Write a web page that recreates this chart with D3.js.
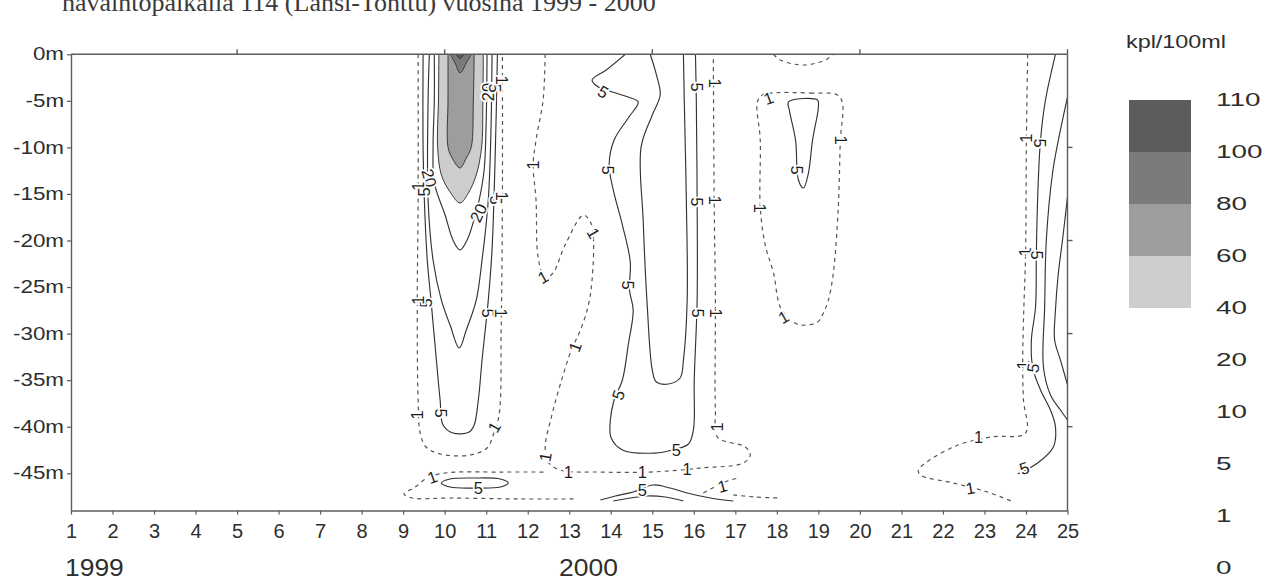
<!DOCTYPE html>
<html>
<head>
<meta charset="utf-8">
<script src="https://cdn.jsdelivr.net/npm/d3@7"></script>
<style>
  body { margin: 0; background: #fff; }
  text { font-family: "Liberation Sans", Arial, sans-serif; }
</style>
</head>
<body>
<svg id="chart" width="1279" height="581"></svg>
<script>
// ---- axis data ----
const months = d3.range(1, 26);
const depthTicks = [0, 5, 10, 15, 20, 25, 30, 35, 40, 45];
const topTicks = [5, 10, 15, 20, 25];
const rightTicks = [10, 20, 30, 40];
const years = ["1999", "2000"];
const yearStartMonth = [1, 12.9];
const titleText = "havaintopaikalla 114 (Länsi-Tonttu) vuosina 1999 - 2000";
const unitText = "kpl/100ml";

// ---- legend ----
const legendLevels = [110, 100, 80, 60, 40, 20, 10, 5, 1, 0];
const shadedLevels = [100, 80, 60, 40];           // lower bound of each shaded band
const shadeColors = ["#5c5c5c", "#7b7b7b", "#9d9d9d", "#cdcdcd"];

// ---- contour geometry: [month, depth in m] ----
// shaded bands of the bloom (closed along the surface)
const band40 = [[9.86,0],[9.85,4.91],[9.83,9.97],[9.92,12.96],[10.13,14.79],[10.37,15.97],[10.57,14.90],[10.76,12.96],[10.89,9.97],[10.92,4.91],[10.93,0]];
const band60 = [[10.08,0],[10.08,4.91],[10.08,9.97],[10.18,11.14],[10.37,12.21],[10.52,11.14],[10.64,9.97],[10.69,4.91],[10.71,0]];
const band80 = [[10.13,0],[10.25,0.93],[10.37,2.0],[10.52,0.93],[10.64,0]];
const band100 = [[10.28,0],[10.37,0.45],[10.47,0]];

// bloom isolines
const bloom20 = [[9.75,0],[9.75,4.91],[9.72,9.97],[9.75,13.82],[10.01,17.26],[10.20,19.95],[10.37,21.02],[10.54,19.95],[10.69,18.01],[10.83,15.65],[10.95,12.43],[11.00,7.06],[11.02,0]];
const bloom10 = [[9.63,0],[9.60,4.91],[9.60,15.65],[9.72,22.09],[9.92,26.40],[10.13,29.08],[10.35,31.55],[10.52,29.62],[10.76,26.40],[10.90,22.09],[11.05,15.65],[11.12,7.06],[11.14,0]];
const bloom5 = [[9.48,0],[9.48,10.28],[9.51,15.65],[9.58,22.09],[9.67,26.40],[9.80,32.84],[9.89,37.13],[9.96,39.82],[10.20,40.68],[10.59,40.57],[10.71,39.82],[10.81,37.13],[10.90,32.84],[11.05,26.40],[11.14,21.02],[11.22,10.28],[11.27,0]];
const bloom1 = [[9.36,0],[9.36,15.65],[9.34,26.40],[9.36,37.13],[9.41,40.68],[9.55,42.18],[9.89,42.93],[10.61,43.04],[11.02,42.29],[11.17,40.89],[11.31,38.74],[11.36,29.62],[11.39,15.65],[11.39,0]];

// near-bottom layer
const bottom1 = [[13.10,47.76],[11.82,47.76],[10.13,47.66],[9.22,47.66],[9.02,47.23],[9.29,46.48],[9.58,45.51],[10.01,44.97],[11.34,44.87],[12.42,44.87]];
const bottom5 = [[9.92,46.05],[10.13,45.62],[10.71,45.51],[11.34,45.62],[11.53,46.05],[11.34,46.48],[10.71,46.59],[10.13,46.48]];
const floor5a = [[13.75,47.87],[14.11,47.44],[14.54,47.01],[15.02,46.26],[15.43,46.59],[15.84,47.12],[16.40,47.66],[16.95,47.98]];
const floor5b = [[14.06,47.98],[14.47,47.66],[14.88,47.44],[15.31,47.55],[15.75,47.98]];
const floor1a = [[16.23,47.12],[16.45,46.59],[16.81,45.83],[17.07,45.51]];
const floor1b = [[16.95,47.33],[17.48,47.55],[18.11,47.66]];

// months 12–17
const mid1 = [[12.42,0],[12.37,4.91],[12.20,9.21],[12.13,11.89],[12.20,15.65],[12.23,21.02],[12.30,22.85],[12.42,24.03],[12.61,23.49],[12.90,20.49],[13.34,17.26],[13.51,18.01],[13.58,19.62],[13.55,24.25],[13.46,26.94],[13.27,29.62],[13.05,31.76],[12.78,35.52],[12.57,38.96],[12.42,42.18],[12.49,43.79],[12.78,44.65],[13.75,44.87],[14.95,44.87],[16.16,44.44],[17.19,43.90],[17.36,43.04],[17.24,42.18],[16.57,41.11],[16.52,38.21],[16.52,26.40],[16.49,15.65],[16.47,0]];
const mid5 = [[14.35,0],[13.89,1.69],[13.55,2.76],[13.70,3.51],[14.04,4.05],[14.42,4.59],[14.66,5.12],[14.42,6.84],[14.08,9.21],[13.96,11.89],[14.06,14.57],[14.28,18.34],[14.47,22.31],[14.45,25.32],[14.54,27.47],[14.42,31.22],[14.28,34.98],[14.08,37.13],[13.99,39.28],[14.01,41.22],[14.28,42.50],[15.07,42.83],[15.48,42.50],[15.87,41.86],[15.99,40.36],[16.01,34.98],[16.08,26.40],[16.08,15.65],[16.06,4.91],[16.04,0]];
const tongue5 = [[14.95,0],[15.10,2.22],[15.19,4.37],[15.00,6.52],[14.73,9.97],[14.78,17.80],[14.88,27.14],[15.00,33.91],[15.10,35.20],[15.39,35.41],[15.67,34.77],[15.75,32.84],[15.84,26.40],[15.82,15.65],[15.77,4.91],[15.75,0]];

// months 18–20
const surface1 = [[17.92,0],[18.08,0.61],[18.64,1.15],[19.17,0.61],[19.36,0]];
const patch1 = [[17.84,4.16],[18.81,4.16],[19.46,4.37],[19.58,5.23],[19.53,9.21],[19.48,16.40],[19.36,23.49],[19.24,26.40],[19.12,27.79],[18.98,28.76],[18.57,29.08],[18.33,28.54],[18.08,27.14],[17.92,23.49],[17.72,20.49],[17.60,16.40],[17.60,9.21],[17.53,5.12],[17.65,4.37]];
const patch5 = [[18.28,5.12],[18.98,4.91],[19.00,5.66],[18.86,9.21],[18.76,12.75],[18.64,14.36],[18.52,13.50],[18.45,9.21],[18.30,6.0]];

// months 21–25
const late1 = [[24.04,0],[24.01,9.21],[23.99,21.34],[23.94,28.54],[23.92,33.59],[23.94,37.13],[23.99,40.68],[23.14,41.11],[22.25,42.18],[21.41,44.65],[21.46,45.19],[22.25,46.05],[23.07,47.01],[23.70,48.09]];
const late5 = [[24.71,0],[24.47,4.91],[24.35,9.21],[24.28,15.65],[24.25,21.34],[24.23,27.14],[24.13,30.69],[24.16,33.59],[24.35,36.06],[24.59,38.21],[24.71,40.03],[24.66,42.18],[24.28,43.90],[23.80,45.08]];
const late10 = [[25,4.59],[24.78,9.21],[24.64,12.75],[24.49,19.95],[24.45,27.14],[24.42,33.59],[24.59,36.59],[24.83,38.21],[25,39.28]];
const late20 = [[25,15.33],[24.88,19.95],[24.78,23.49],[24.71,27.47],[24.69,30.69],[24.83,32.84],[25,35.5]];

const bands = [
  { level: 40, pts: band40 }, { level: 60, pts: band60 },
  { level: 80, pts: band80 }, { level: 100, pts: band100 }
];
const isolines = [
  { level: 1, pts: bloom1 }, { level: 5, pts: bloom5 }, { level: 10, pts: bloom10 }, { level: 20, pts: bloom20 },
  { level: 1, pts: bottom1 }, { level: 5, pts: bottom5, closed: true },
  { level: 5, pts: floor5a }, { level: 10, pts: floor5b },
  { level: 1, pts: floor1a }, { level: 1, pts: floor1b },
  { level: 1, pts: mid1 }, { level: 5, pts: mid5 }, { level: 5, pts: tongue5 },
  { level: 1, pts: surface1 }, { level: 1, pts: patch1, closed: true }, { level: 5, pts: patch5, closed: true },
  { level: 1, pts: late1 }, { level: 5, pts: late5 }, { level: 10, pts: late10 }, { level: 20, pts: late20 }
];

// contour labels: [text, month, depth, angle]
const contourLabels = [
  ["20", 11.05, 4.05, -90], ["5", 11.22, 3.62, 90], ["1", 11.37, 2.76, 90],
  ["20", 9.63, 13.29, 75], ["1", 9.36, 14.15, -90], ["5", 9.51, 14.79, -90],
  ["20", 10.81, 17.05, -65], ["5", 11.24, 15.65, 90], ["1", 11.39, 15.22, 90],
  ["5", 9.55, 26.71, -90], ["1", 9.35, 26.40, -90],
  ["5", 11.04, 27.79, 90], ["1", 11.36, 27.79, 90],
  ["1", 9.34, 38.74, -90], ["5", 9.90, 38.53, 90], ["1", 11.19, 40.03, -60],
  ["1", 9.70, 45.40, -20], ["5", 10.81, 46.59, 0],
  ["1", 12.13, 11.89, -90], ["1", 12.37, 23.92, -30], ["1", 13.58, 19.20, 60],
  ["1", 13.14, 31.44, -70], ["1", 12.42, 43.26, -80],
  ["1", 12.98, 44.87, 0], ["1", 14.76, 44.87, 0], ["1", 15.84, 44.54, 0], ["1", 16.57, 40.03, -90],
  ["5", 13.82, 4.05, 30], ["5", 13.94, 12.43, 90], ["5", 14.42, 24.78, 90], ["5", 14.18, 36.59, -70],
  ["5", 15.58, 42.50, 0],
  ["5", 16.08, 3.51, 90], ["5", 16.08, 15.86, 90], ["5", 16.11, 27.79, 90],
  ["1", 16.50, 3.08, 90], ["1", 16.52, 15.65, 90], ["1", 16.54, 27.79, 90],
  ["5", 14.76, 46.80, 0], ["1", 16.69, 46.37, -15],
  ["1", 17.80, 4.69, -20], ["1", 19.55, 9.21, 90], ["1", 17.60, 16.51, 90], ["1", 18.16, 28.22, -30],
  ["5", 18.49, 12.43, 90],
  ["1", 24.01, 9.0, -90], ["5", 24.33, 9.53, 90], ["1", 23.98, 21.23, -90], ["5", 24.27, 21.56, 90],
  ["1", 23.92, 33.37, -90], ["5", 24.17, 33.69, -80],
  ["1", 22.86, 41.11, 0], ["1", 22.66, 46.59, -10], ["5", 23.96, 44.44, -20]
];

// ---- drawing ----
const svg = d3.select("#chart");
const x = d3.scaleLinear().domain([1, 25]).range([71, 1067.5]);
const y = d3.scaleLinear().domain([0, 49]).range([54.3, 510.5]);
const shade = d3.scaleOrdinal().domain(shadedLevels).range(shadeColors);

// page heading (runs off the top edge of the page)
svg.append("text")
  .attr("x", 62).attr("y", 11)
  .style("font-family", "'Liberation Serif', 'Times New Roman', serif")
  .style("font-size", "26px").attr("fill", "#3a3a3a")
  .text(titleText);

svg.append("defs").append("clipPath").attr("id", "plotClip")
  .append("rect")
  .attr("x", x(1)).attr("y", y(0))
  .attr("width", x(25) - x(1)).attr("height", y(49) - y(0));

const plot = svg.append("g").attr("clip-path", "url(#plotClip)");
const openLine = d3.line().x(d => x(d[0])).y(d => y(d[1])).curve(d3.curveCatmullRom.alpha(0.5));
const loopLine = d3.line().x(d => x(d[0])).y(d => y(d[1])).curve(d3.curveCatmullRomClosed.alpha(0.5));

plot.selectAll("path.band").data(bands).join("path")
  .attr("class", "band")
  .attr("d", d => openLine(d.pts) + "Z")
  .attr("fill", d => shade(d.level))
  .attr("stroke", "#3a3a3a").attr("stroke-width", 1.0);

plot.selectAll("path.iso").data(isolines).join("path")
  .attr("class", "iso")
  .attr("d", d => d.closed ? loopLine(d.pts) : openLine(d.pts))
  .attr("fill", "none")
  .attr("stroke", d => d.level === 1 ? "#555" : "#333")
  .attr("stroke-width", d => d.level === 1 ? 1.2 : 1.15)
  .attr("stroke-dasharray", d => d.level === 1 ? "4,4" : null);

plot.selectAll("text.lab").data(contourLabels).join("text")
  .attr("class", "lab")
  .attr("transform", d => `translate(${x(d[1])},${y(d[2])}) rotate(${d[3]})`)
  .attr("text-anchor", "middle").attr("dy", "0.36em")
  .style("font-size", "16.5px")
  .attr("fill", "#1e1e1e")
  .attr("stroke", "#fff").attr("stroke-width", 3.5)
  .style("paint-order", "stroke")
  .text(d => d[0]);

// frame
const axisColor = "#5c5c5c";
const frame = svg.append("g");
frame.append("line").attr("x1", x(1)).attr("x2", x(25)).attr("y1", y(0)).attr("y2", y(0));
frame.append("line").attr("x1", x(25)).attr("x2", x(25)).attr("y1", y(0)).attr("y2", y(49));
frame.selectAll("line.tt").data(topTicks).join("line").attr("class", "tt")
  .attr("x1", d => x(d)).attr("x2", d => x(d)).attr("y1", y(0)).attr("y2", y(0) - 5);
frame.selectAll("line.rt").data(rightTicks).join("line").attr("class", "rt")
  .attr("x1", x(25)).attr("x2", x(25) + 5).attr("y1", d => y(d)).attr("y2", d => y(d));
frame.selectAll("line").attr("stroke", axisColor).attr("stroke-width", 1.4);

const yAxis = svg.append("g").attr("transform", `translate(${x(1)},0)`)
  .call(d3.axisLeft(y).tickValues(depthTicks).tickSize(4).tickPadding(3).tickSizeOuter(0)
    .tickFormat(d => `${-d}m`));
const xAxis = svg.append("g").attr("transform", `translate(0,${y(49)})`)
  .call(d3.axisBottom(x).tickValues(months).tickSize(4).tickPadding(9).tickSizeOuter(0)
    .tickFormat(d3.format("d")));

[yAxis, xAxis].forEach(g => {
  g.select(".domain").attr("stroke", axisColor).attr("stroke-width", 1.4);
  g.selectAll(".tick line").attr("stroke", axisColor).attr("stroke-width", 1.2);
  g.selectAll(".tick text").attr("fill", "#2e2e2e").style("font-family", "'Liberation Sans', Arial, sans-serif");
});
yAxis.selectAll(".tick text").style("font-size", "17.5px")
  .attr("x", -7 / 1.28).attr("transform", "scale(1.28,1)");
xAxis.selectAll(".tick text").style("font-size", "20px");

svg.selectAll("text.year").data(years).join("text").attr("class", "year")
  .attr("transform", (d, i) => `translate(${x(yearStartMonth[i]) - 6},576) scale(1.15,1)`)
  .style("font-size", "23px").attr("fill", "#2e2e2e")
  .text(d => d);

// legend
const legendTop = 100, legendStep = 52;
const ly = d3.scaleLinear().domain([0, legendLevels.length - 1])
  .range([legendTop, legendTop + legendStep * (legendLevels.length - 1)]);
const legend = svg.append("g");
legend.append("text")
  .attr("transform", `translate(1176,48) scale(1.3,1)`)
  .attr("text-anchor", "middle").style("font-size", "18px").attr("fill", "#2e2e2e")
  .text(unitText);
legend.selectAll("rect").data(shadedLevels).join("rect")
  .attr("x", 1129).attr("width", 62)
  .attr("y", (d, i) => ly(i)).attr("height", (d, i) => ly(i + 1) - ly(i))
  .attr("fill", d => shade(d));
legend.selectAll("text.lv").data(legendLevels).join("text").attr("class", "lv")
  .attr("transform", (d, i) => `translate(1216,${ly(i)}) scale(1.55,1)`)
  .attr("dy", "0.36em").style("font-size", "18px").attr("fill", "#2e2e2e")
  .text(d => d);
</script>
</body>
</html>
